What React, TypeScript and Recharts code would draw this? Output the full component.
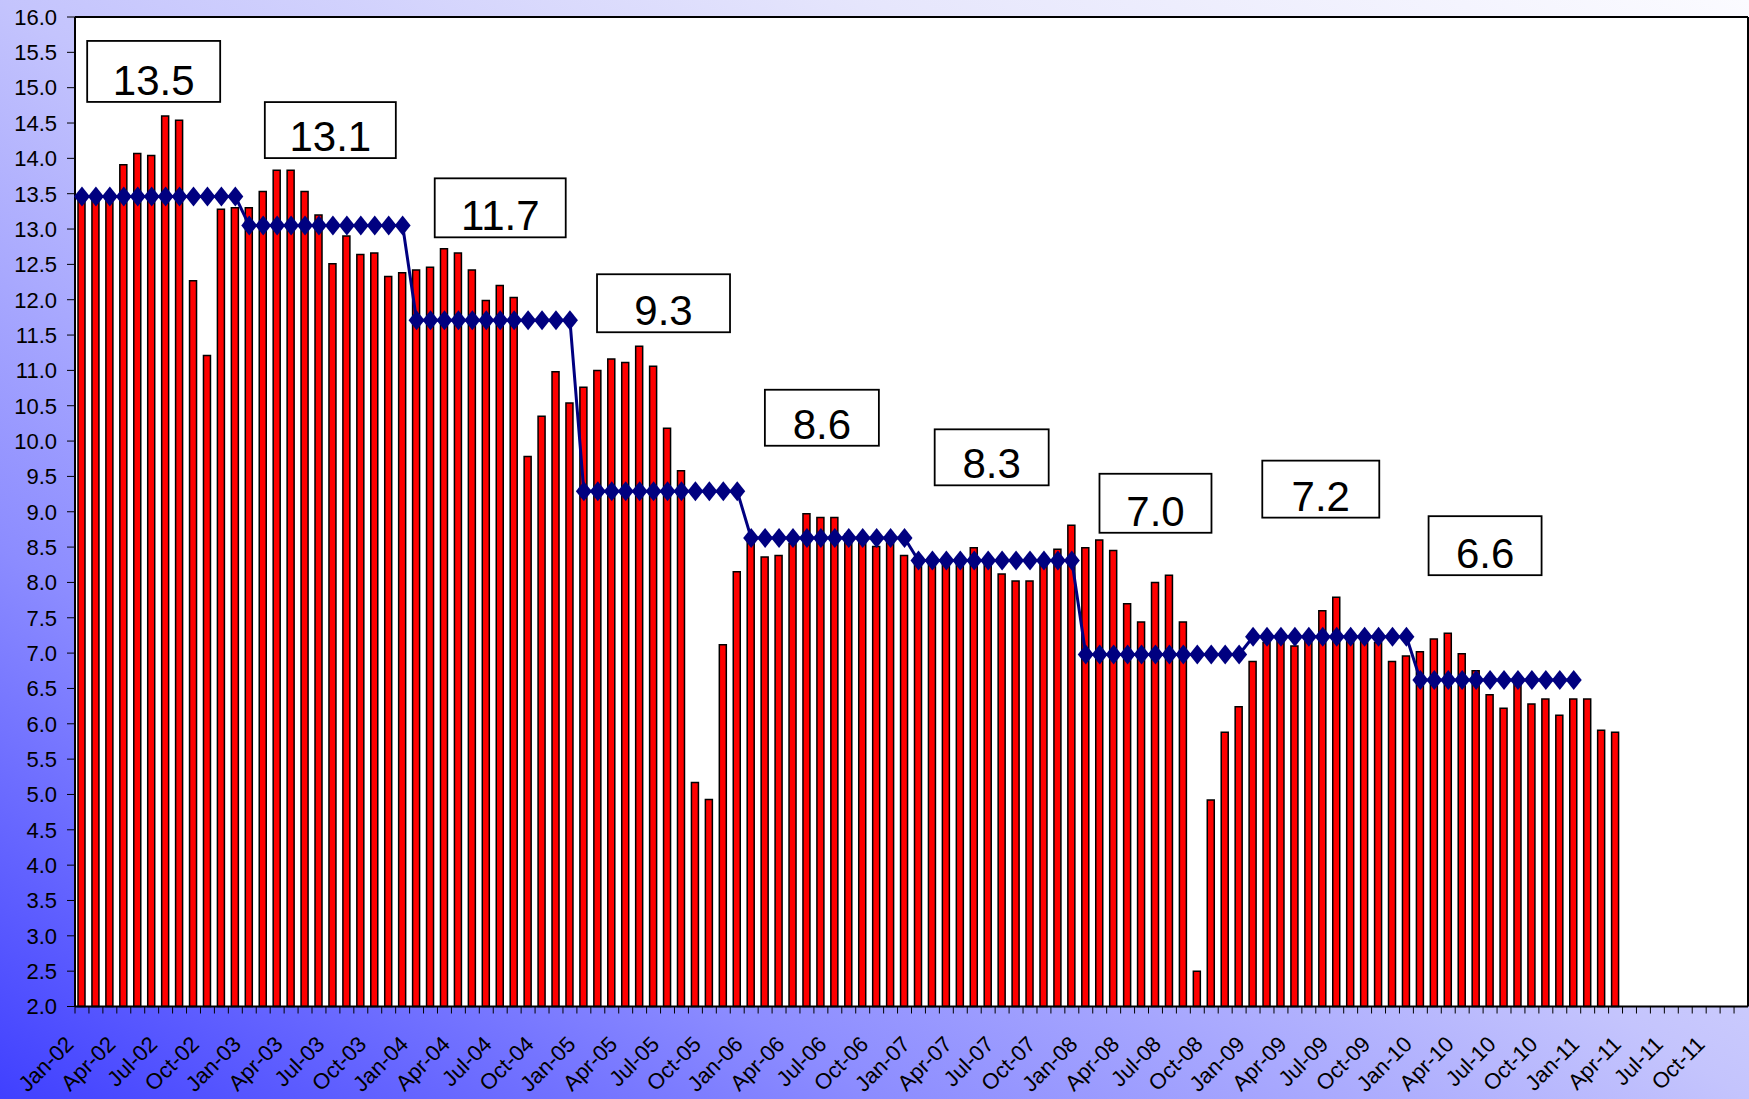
import React from "react";
import {
  ComposedChart,
  Bar,
  Line,
  XAxis,
  YAxis,
  CartesianGrid,
  ReferenceDot,
  ReferenceLine,
} from "recharts";

const monthNames = ["Jan", "Feb", "Mar", "Apr", "May", "Jun", "Jul", "Aug", "Sep", "Oct", "Nov", "Dec"];
const years = ["02", "03", "04", "05", "06", "07", "08", "09", "10", "11"];

// monthly values, one array per year
const rate2002 = [13.45, 13.42, 13.5, 13.91, 14.07, 14.04, 14.6, 14.54, 12.27, 11.21, 13.28, 13.3];
const rate2003 = [13.3, 13.53, 13.83, 13.83, 13.53, 13.2, 12.51, 12.9, 12.64, 12.66, 12.33, 12.38];
const rate2004 = [12.42, 12.46, 12.72, 12.66, 12.42, 11.99, 12.2, 12.03, 9.78, 10.35, 10.98, 10.54];
const rate2005 = [10.76, 11.0, 11.16, 11.11, 11.34, 11.06, 10.18, 9.58, 5.17, 4.93, 7.12, 8.15];
const rate2006 = [8.62, 8.36, 8.38, 8.55, 8.97, 8.92, 8.92, 8.68, 8.6, 8.51, 8.58, 8.38];
const rate2007 = [8.35, 8.3, 8.25, 8.3, 8.49, 8.28, 8.12, 8.02, 8.02, 8.3, 8.47, 8.81];
const rate2008 = [8.49, 8.6, 8.45, 7.7, 7.44, 8.0, 8.1, 7.44, 2.5, 4.92, 5.88, 6.24];
const rate2009 = [6.88, 7.15, 7.25, 7.1, 7.2, 7.6, 7.79, 7.25, 7.2, 7.15, 6.88, 6.96];
const rate2010 = [7.02, 7.2, 7.28, 6.99, 6.75, 6.41, 6.22, 6.6, 6.28, 6.35, 6.12, 6.35];
const rate2011 = [6.35, 5.91, 5.88];

const monthlyRates = [rate2002, rate2003, rate2004, rate2005, rate2006, rate2007, rate2008, rate2009, rate2010, rate2011];

// yearly averages 2002..2010 (line) and the figures shown in the boxes
const annualAverage = [13.46, 13.05, 11.71, 9.29, 8.63, 8.31, 6.98, 7.23, 6.62];
const annualLabels = ["13.5", "13.1", "11.7", "9.3", "8.6", "8.3", "7.0", "7.2", "6.6"];

const yTicks = [
  2.0, 2.5, 3.0, 3.5, 4.0, 4.5, 5.0, 5.5, 6.0, 6.5, 7.0, 7.5, 8.0, 8.5, 9.0,
  9.5, 10.0, 10.5, 11.0, 11.5, 12.0, 12.5, 13.0, 13.5, 14.0, 14.5, 15.0, 15.5, 16.0,
];

const data = years.flatMap((yy, yi) =>
  monthNames.map((m, mi) => ({
    month: `${m}-${yy}`,
    rate: monthlyRates[yi][mi] ?? null,
    avg: annualAverage[yi] ?? null,
  }))
);

// where the annual boxes sit
const boxes = [
  { at: "Jun-02", y: 15.23, dx: 2, w: 133, h: 61 },
  { at: "Jul-03", y: 14.4, dx: -2.6, w: 131, h: 56 },
  { at: "Jul-04", y: 13.3, dx: 0, w: 131, h: 59 },
  { at: "Jul-05", y: 11.95, dx: -4, w: 133, h: 58 },
  { at: "Jun-06", y: 10.33, dx: 1, w: 114, h: 56 },
  { at: "Jun-07", y: 9.77, dx: 3.5, w: 114, h: 56 },
  { at: "Jun-08", y: 9.12, dx: 0, w: 112, h: 59 },
  { at: "Jun-09", y: 9.32, dx: -2, w: 117, h: 57 },
  { at: "Jun-10", y: 8.52, dx: -5, w: 113, h: 59 },
];

const W = 1749;
const H = 1099;
const Y_AXIS_W = 75;
const X_AXIS_H = 92.5;
const BAND = (W - Y_AXIS_W - 1) / data.length;

function MonthTick(props: any) {
  const { x, y, payload, index } = props;
  const left = x - BAND / 2;
  const ty = y + 39;
  return (
    <g>
      <line x1={left} y1={y} x2={left} y2={y + 7} stroke="#000" strokeWidth={1} />
      {index % 3 === 0 && (
        <text
          x={left}
          y={ty}
          transform={`rotate(-45 ${left} ${ty})`}
          textAnchor="end"
          fontSize={22}
          fill="#000"
        >
          {payload.value}
        </text>
      )}
    </g>
  );
}

function Diamond(props: any) {
  const { cx, cy, value } = props;
  if (cx == null || cy == null || value == null) return <g />;
  return (
    <polygon
      points={`${cx},${cy - 10} ${cx + 8},${cy} ${cx},${cy + 10} ${cx - 8},${cy}`}
      fill="#000080"
    />
  );
}

function AnnualBox({ cx, cy, text, w, h }: any) {
  return (
    <g>
      <rect x={cx - w / 2} y={cy - h / 2} width={w} height={h} fill="none" stroke="#000" strokeWidth={1.8} />
      <text x={cx} y={cy + h / 2 - 7} textAnchor="middle" fontSize={42} fill="#000">
        {text}
      </text>
    </g>
  );
}

export default function App() {
  return (
    <div
      style={{
        position: "absolute",
        left: 0,
        top: 0,
        width: W,
        height: H,
        fontFamily: "'Liberation Sans', Arial, sans-serif",
        background:
          "linear-gradient(to top right, #4040ff 0%, #8c8cff 25%, #c4c4fd 50%, #e6e6fc 75%, #fbfbff 100%)",
      }}
    >
      <ComposedChart width={W} height={H} data={data} margin={{ top: 17, right: 0, bottom: 0, left: 0 }}>
        <rect x={Y_AXIS_W} y={17} width={W - Y_AXIS_W - 1} height={H - 17 - X_AXIS_H} fill="#fff" />
        <CartesianGrid vertical={false} stroke="#222" strokeWidth={1} fill="#fff" />
        <XAxis
          dataKey="month"
          height={X_AXIS_H}
          interval={0}
          tickSize={0}
          tickMargin={0}
          tickLine={false}
          tick={<MonthTick />}
          axisLine={{ stroke: "#000", strokeWidth: 2 }}
        />
        <YAxis
          width={Y_AXIS_W}
          domain={[2, 16]}
          ticks={yTicks}
          interval={0}
          tickSize={8}
          tickMargin={10}
          tickFormatter={(v: number) => v.toFixed(1)}
          tick={{ fontSize: 22, fill: "#000" }}
          tickLine={{ stroke: "#000" }}
          axisLine={{ stroke: "#000", strokeWidth: 2 }}
        />
        <YAxis
          yAxisId="right"
          orientation="right"
          width={1}
          domain={[2, 16]}
          tick={false}
          tickLine={false}
          axisLine={{ stroke: "#000", strokeWidth: 2 }}
        />
        <ReferenceLine y={16} stroke="#000" strokeWidth={2} />
        <Bar dataKey="rate" fill="#ff0000" stroke="#000" strokeWidth={1.5} barSize={7} isAnimationActive={false} />
        <Line
          dataKey="avg"
          type="linear"
          stroke="#000080"
          strokeWidth={3}
          dot={(p: any) => <Diamond key={`d-${p.index}`} {...p} />}
          activeDot={false}
          isAnimationActive={false}
        />
        {boxes.map((b, i) => (
          <ReferenceDot
            key={b.at}
            x={b.at}
            y={b.y}
            r={0}
            shape={(p: any) => <AnnualBox cx={p.cx + b.dx} cy={p.cy} w={b.w} h={b.h} text={annualLabels[i]} />}
          />
        ))}
      </ComposedChart>
    </div>
  );
}
